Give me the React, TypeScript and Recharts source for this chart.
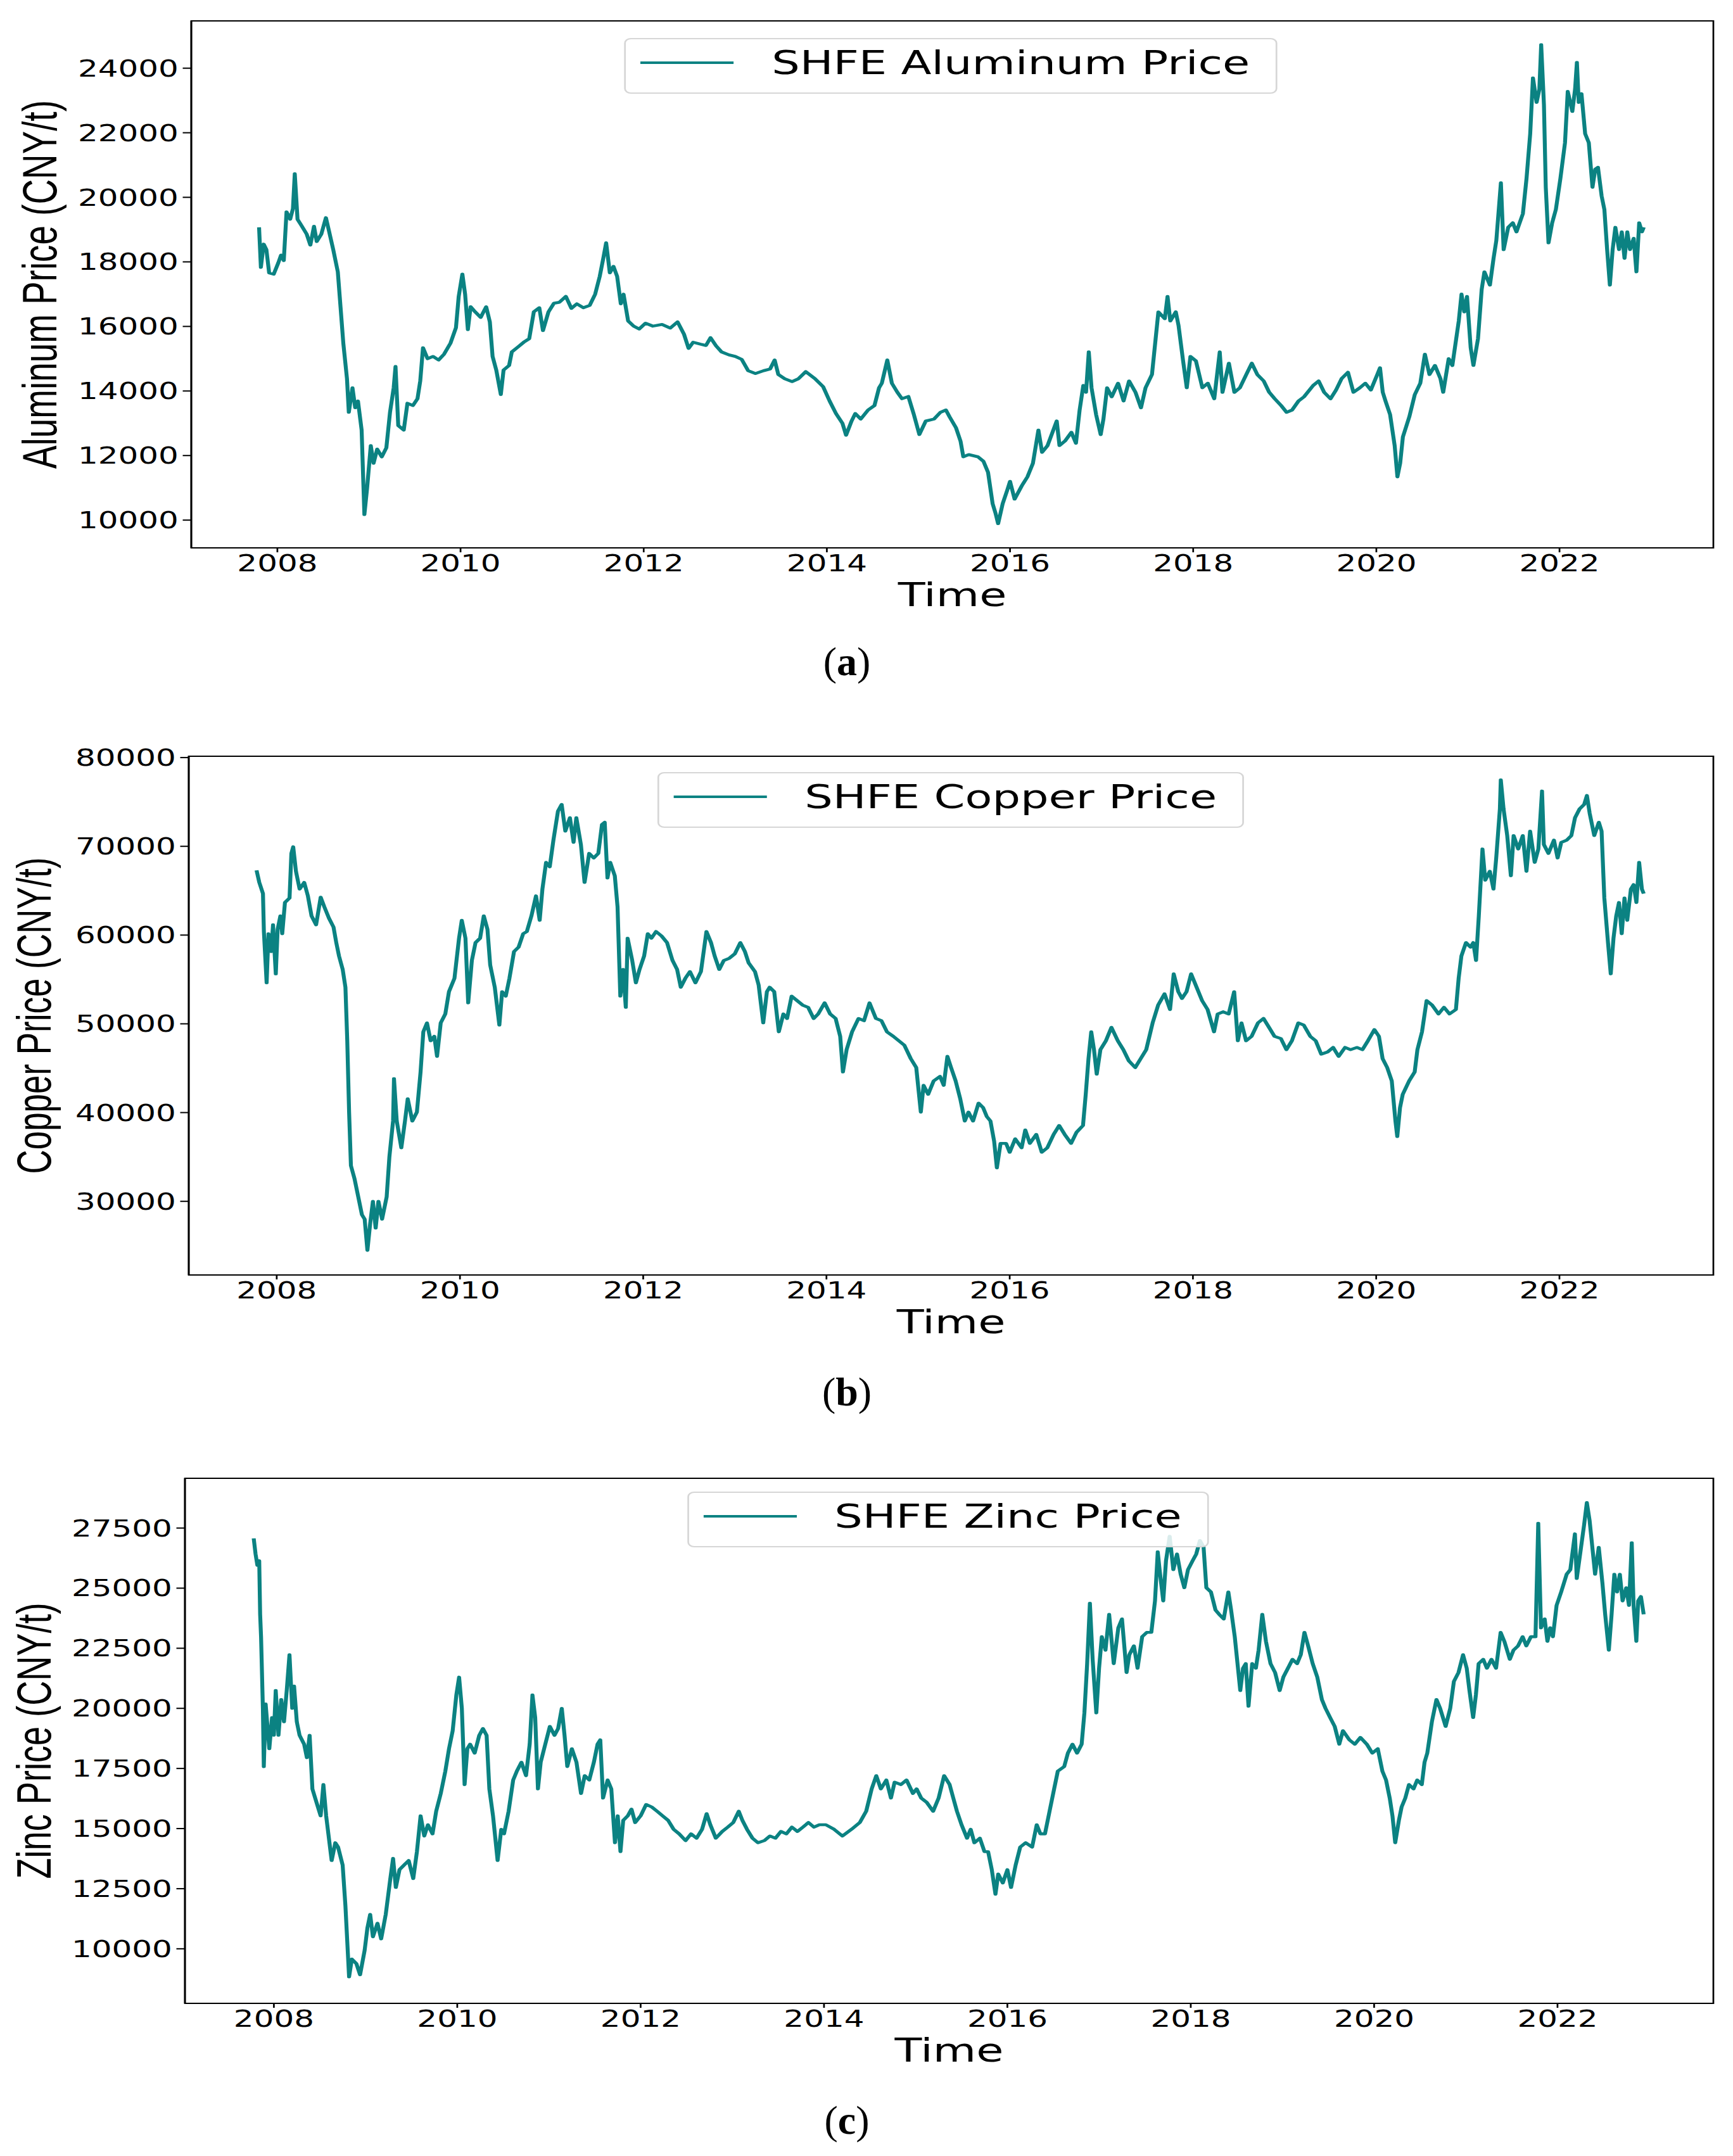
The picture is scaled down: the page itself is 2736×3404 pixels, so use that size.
import React from 'react';
import { LineChart, Line, XAxis, YAxis, Legend, Label, ReferenceArea } from 'recharts';

// the source figure is horizontally stretched, so each chart is drawn narrow and scaled in x
const PAGE_W = 2736;
const PAGE_H = 3404;
const CHART_W = 2027;
const STRETCH = PAGE_W / CHART_W;
const CHART_H = 1000;
const XAXIS_H = 110;
const PLOT_RIGHT = 2705; // page px
const TEAL = '#0b8282';

const yearTicks = [2008, 2010, 2012, 2014, 2016, 2018, 2020, 2022];
const aluminumTicks = [10000, 12000, 14000, 16000, 18000, 20000, 22000, 24000];
const copperTicks = [30000, 40000, 50000, 60000, 70000, 80000];
const zincTicks = [10000, 12500, 15000, 17500, 20000, 22500, 25000, 27500];

// [decimal year, CNY/t]
const aluminum: [number, number][] = [
  [2007.80, 19070], [2007.82, 17830], [2007.85, 18550], [2007.88, 18380], [2007.91, 17660], [2007.96, 17620],
  [2008.01, 17970], [2008.04, 18210], [2008.07, 18040], [2008.10, 19550], [2008.14, 19320], [2008.17, 19650],
  [2008.19, 20730], [2008.22, 19320], [2008.26, 19140], [2008.32, 18860], [2008.36, 18520], [2008.40, 19100],
  [2008.43, 18630], [2008.48, 18860], [2008.53, 19370], [2008.56, 19000], [2008.61, 18380], [2008.66, 17690],
  [2008.69, 16590], [2008.72, 15480], [2008.76, 14380], [2008.78, 13340], [2008.82, 14100], [2008.85, 13480],
  [2008.88, 13690], [2008.92, 12790], [2008.95, 10170], [2008.98, 11000], [2009.02, 12310], [2009.05, 11760],
  [2009.09, 12200], [2009.14, 11960], [2009.19, 12240], [2009.23, 13340], [2009.27, 14100], [2009.29, 14760],
  [2009.32, 12930], [2009.38, 12790], [2009.42, 13620], [2009.48, 13550], [2009.53, 13760], [2009.56, 14310],
  [2009.59, 15340], [2009.64, 15000], [2009.70, 15070], [2009.76, 14960], [2009.82, 15140], [2009.89, 15480],
  [2009.95, 15960], [2009.98, 16930], [2010.02, 17620], [2010.05, 17000], [2010.08, 15900], [2010.11, 16610],
  [2010.16, 16450], [2010.22, 16280], [2010.28, 16610], [2010.32, 16140], [2010.35, 15070], [2010.39, 14650],
  [2010.44, 13890], [2010.47, 14650], [2010.53, 14790], [2010.56, 15210], [2010.63, 15370], [2010.69, 15510],
  [2010.75, 15620], [2010.80, 16450], [2010.86, 16580], [2010.90, 15870], [2010.96, 16450], [2011.02, 16720],
  [2011.08, 16750], [2011.15, 16930], [2011.21, 16560], [2011.27, 16700], [2011.34, 16580], [2011.41, 16650],
  [2011.47, 17000], [2011.52, 17550], [2011.56, 18130], [2011.59, 18590], [2011.63, 17660], [2011.67, 17860],
  [2011.71, 17550], [2011.75, 16700], [2011.78, 17000], [2011.83, 16170], [2011.89, 16010], [2011.95, 15920],
  [2012.02, 16100], [2012.10, 16010], [2012.20, 16060], [2012.29, 15950], [2012.37, 16140], [2012.44, 15760],
  [2012.49, 15320], [2012.54, 15510], [2012.62, 15450], [2012.68, 15410], [2012.73, 15650], [2012.79, 15400],
  [2012.85, 15210], [2012.93, 15120], [2013.00, 15070], [2013.07, 14980], [2013.14, 14630], [2013.22, 14540],
  [2013.31, 14630], [2013.38, 14680], [2013.43, 14960], [2013.47, 14510], [2013.54, 14380], [2013.62, 14290],
  [2013.69, 14380], [2013.77, 14600], [2013.87, 14380], [2013.96, 14130], [2014.03, 13690], [2014.10, 13300],
  [2014.17, 13000], [2014.21, 12630], [2014.27, 13070], [2014.31, 13300], [2014.37, 13130], [2014.45, 13410],
  [2014.52, 13550], [2014.57, 14100], [2014.60, 14240], [2014.66, 14960], [2014.71, 14240], [2014.77, 13960],
  [2014.82, 13760], [2014.89, 13830], [2014.95, 13270], [2015.01, 12650], [2015.08, 13070], [2015.17, 13130],
  [2015.24, 13340], [2015.30, 13410], [2015.34, 13200], [2015.41, 12860], [2015.46, 12440], [2015.49, 11960],
  [2015.55, 12030], [2015.65, 11960], [2015.71, 11820], [2015.76, 11480], [2015.81, 10510], [2015.84, 10230],
  [2015.87, 9890], [2015.92, 10510], [2015.97, 10930], [2016.00, 11200], [2016.05, 10650], [2016.13, 11070],
  [2016.19, 11340], [2016.25, 11760], [2016.31, 12790], [2016.35, 12100], [2016.41, 12310], [2016.51, 13070],
  [2016.54, 12310], [2016.60, 12450], [2016.67, 12720], [2016.72, 12380], [2016.76, 13410], [2016.80, 14170],
  [2016.83, 13960], [2016.86, 15210], [2016.89, 14100], [2016.94, 13270], [2016.99, 12650], [2017.02, 13130],
  [2017.06, 14100], [2017.11, 13820], [2017.18, 14240], [2017.24, 13690], [2017.30, 14310], [2017.37, 13960],
  [2017.43, 13480], [2017.48, 14100], [2017.55, 14510], [2017.59, 15620], [2017.62, 16450], [2017.69, 16240],
  [2017.72, 16930], [2017.75, 16170], [2017.81, 16450], [2017.84, 16030], [2017.89, 14930], [2017.93, 14100],
  [2017.97, 15070], [2018.03, 14930], [2018.10, 14100], [2018.16, 14240], [2018.23, 13760], [2018.29, 15210],
  [2018.32, 13960], [2018.39, 14860], [2018.45, 13960], [2018.51, 14100], [2018.58, 14510], [2018.64, 14860],
  [2018.70, 14510], [2018.77, 14310], [2018.83, 13960], [2018.89, 13760], [2018.96, 13550], [2019.02, 13340],
  [2019.08, 13410], [2019.15, 13690], [2019.21, 13820], [2019.31, 14170], [2019.37, 14310], [2019.43, 13960],
  [2019.50, 13760], [2019.56, 14030], [2019.62, 14380], [2019.69, 14580], [2019.75, 13960], [2019.82, 14100],
  [2019.88, 14240], [2019.94, 14030], [2020.01, 14510], [2020.04, 14720], [2020.07, 13960], [2020.10, 13690],
  [2020.15, 13270], [2020.20, 12310], [2020.23, 11340], [2020.26, 11760], [2020.29, 12580], [2020.36, 13200],
  [2020.42, 13890], [2020.48, 14240], [2020.53, 15140], [2020.58, 14510], [2020.64, 14790], [2020.70, 14380],
  [2020.73, 13960], [2020.79, 15000], [2020.83, 14790], [2020.90, 16170], [2020.93, 17000], [2020.96, 16450],
  [2020.99, 16930], [2021.03, 15340], [2021.06, 14790], [2021.11, 15620], [2021.15, 17140], [2021.18, 17690],
  [2021.24, 17280], [2021.28, 18110], [2021.31, 18660], [2021.36, 20450], [2021.39, 18380], [2021.44, 19070],
  [2021.49, 19210], [2021.53, 18930], [2021.60, 19490], [2021.64, 20590], [2021.68, 21970], [2021.71, 23700],
  [2021.75, 22940], [2021.78, 23350], [2021.80, 24730], [2021.83, 22870], [2021.85, 20310], [2021.88, 18590],
  [2021.92, 19210], [2021.96, 19620], [2022.01, 20590], [2022.06, 21690], [2022.09, 23280], [2022.14, 22660],
  [2022.17, 23350], [2022.19, 24180], [2022.21, 22940], [2022.24, 23210], [2022.28, 21970], [2022.32, 21690],
  [2022.36, 20310], [2022.39, 20870], [2022.42, 20930], [2022.46, 20040], [2022.49, 19620], [2022.52, 18380],
  [2022.55, 17280], [2022.58, 18380], [2022.61, 19070], [2022.65, 18380], [2022.68, 18930], [2022.71, 18110],
  [2022.74, 18930], [2022.77, 18380], [2022.81, 18730], [2022.84, 17690], [2022.87, 19210], [2022.90, 18930],
  [2022.92, 19070],
];

const copper: [number, number][] = [
  [2007.78, 67290], [2007.81, 65930], [2007.85, 64670], [2007.86, 60400], [2007.89, 54620], [2007.91, 60150],
  [2007.94, 58140], [2007.96, 61160], [2007.99, 55630], [2008.01, 60650], [2008.04, 62160], [2008.06, 60150],
  [2008.09, 63670], [2008.14, 64170], [2008.16, 69200], [2008.18, 69950], [2008.21, 67190], [2008.25, 65180],
  [2008.30, 65930], [2008.34, 64420], [2008.38, 62160], [2008.43, 61160], [2008.48, 64270], [2008.52, 63170],
  [2008.57, 61910], [2008.62, 60900], [2008.65, 59150], [2008.68, 57640], [2008.72, 56130], [2008.75, 54120],
  [2008.77, 48090], [2008.79, 40050], [2008.81, 34020], [2008.85, 32510], [2008.89, 30500], [2008.93, 28490],
  [2008.96, 27990], [2008.99, 24470], [2009.02, 27490], [2009.05, 30000], [2009.08, 26980], [2009.11, 30000],
  [2009.15, 27990], [2009.20, 30500], [2009.23, 35030], [2009.27, 39050], [2009.28, 43820], [2009.31, 39050],
  [2009.36, 36030], [2009.40, 39050], [2009.43, 41560], [2009.48, 39050], [2009.53, 40050], [2009.57, 44570],
  [2009.60, 49100], [2009.64, 50100], [2009.68, 48090], [2009.72, 48590], [2009.75, 46330], [2009.79, 50100],
  [2009.84, 51110], [2009.88, 53620], [2009.94, 55130], [2009.99, 59650], [2010.02, 61660], [2010.06, 59650],
  [2010.09, 52360], [2010.13, 57140], [2010.17, 59150], [2010.22, 59650], [2010.26, 62160], [2010.30, 60650],
  [2010.33, 56630], [2010.38, 54120], [2010.43, 49850], [2010.46, 53620], [2010.50, 53120], [2010.54, 55130],
  [2010.59, 58140], [2010.64, 58640], [2010.69, 60150], [2010.73, 60400], [2010.78, 62160], [2010.83, 64420],
  [2010.87, 61660], [2010.90, 65180], [2010.94, 68190], [2010.98, 67690], [2011.02, 70700], [2011.07, 73970],
  [2011.11, 74720], [2011.15, 71710], [2011.20, 73220], [2011.24, 70450], [2011.27, 73220], [2011.32, 70200],
  [2011.36, 65930], [2011.41, 69200], [2011.46, 68690], [2011.51, 69200], [2011.55, 72460], [2011.58, 72710],
  [2011.61, 66430], [2011.64, 68190], [2011.69, 66680], [2011.72, 63170], [2011.75, 53120], [2011.78, 56130],
  [2011.81, 51860], [2011.83, 59650], [2011.88, 57140], [2011.92, 54620], [2011.96, 56130], [2012.01, 57640],
  [2012.05, 60150], [2012.09, 59650], [2012.14, 60400], [2012.20, 59900], [2012.26, 59150], [2012.32, 57140],
  [2012.37, 56130], [2012.41, 54120], [2012.46, 55130], [2012.51, 55880], [2012.57, 54620], [2012.63, 55880],
  [2012.69, 60400], [2012.74, 59150], [2012.78, 57640], [2012.83, 56130], [2012.88, 57140], [2012.94, 57390],
  [2013.00, 57890], [2013.06, 59150], [2013.11, 58140], [2013.15, 56880], [2013.22, 55880], [2013.26, 54370],
  [2013.31, 50100], [2013.35, 53620], [2013.38, 54120], [2013.43, 53620], [2013.48, 49100], [2013.53, 51110],
  [2013.57, 50600], [2013.62, 53120], [2013.68, 52610], [2013.74, 52110], [2013.80, 51860], [2013.86, 50600],
  [2013.91, 51110], [2013.98, 52360], [2014.04, 51110], [2014.10, 50600], [2014.15, 48590], [2014.18, 44570],
  [2014.22, 47090], [2014.28, 49100], [2014.35, 50600], [2014.41, 50350], [2014.47, 52360], [2014.54, 50600],
  [2014.60, 50350], [2014.66, 49100], [2014.73, 48590], [2014.79, 48090], [2014.85, 47590], [2014.92, 46080],
  [2014.98, 45070], [2015.03, 40050], [2015.06, 43070], [2015.11, 42060], [2015.17, 43570], [2015.24, 44070],
  [2015.28, 43070], [2015.32, 46330], [2015.36, 45070], [2015.41, 43570], [2015.46, 41560], [2015.51, 39050],
  [2015.55, 40050], [2015.60, 39050], [2015.66, 41060], [2015.71, 40550], [2015.75, 39550], [2015.79, 39050],
  [2015.83, 36780], [2015.86, 33770], [2015.90, 36530], [2015.96, 36530], [2016.00, 35530], [2016.06, 37040],
  [2016.13, 36030], [2016.17, 38040], [2016.22, 36530], [2016.29, 37540], [2016.35, 35530], [2016.41, 36030],
  [2016.48, 37540], [2016.54, 38540], [2016.60, 37540], [2016.67, 36530], [2016.73, 37790], [2016.80, 38540],
  [2016.83, 42060], [2016.86, 46080], [2016.89, 49100], [2016.92, 47090], [2016.95, 44320], [2016.99, 47090],
  [2017.05, 48090], [2017.11, 49600], [2017.18, 48090], [2017.24, 47090], [2017.30, 45830], [2017.37, 45070],
  [2017.43, 46080], [2017.49, 47090], [2017.56, 50100], [2017.62, 52110], [2017.69, 53370], [2017.75, 51610],
  [2017.79, 55630], [2017.84, 53620], [2017.88, 52860], [2017.93, 53620], [2017.98, 55630], [2018.04, 54120],
  [2018.10, 52610], [2018.16, 51610], [2018.23, 49100], [2018.27, 51110], [2018.33, 51360], [2018.39, 51110],
  [2018.45, 53620], [2018.49, 48090], [2018.53, 50100], [2018.58, 48090], [2018.64, 48590], [2018.71, 50100],
  [2018.77, 50600], [2018.83, 49600], [2018.89, 48590], [2018.96, 48340], [2019.02, 47090], [2019.08, 48090],
  [2019.15, 50100], [2019.21, 49850], [2019.28, 48590], [2019.34, 48090], [2019.40, 46580], [2019.47, 46830],
  [2019.53, 47340], [2019.59, 46330], [2019.66, 47340], [2019.72, 47090], [2019.79, 47340], [2019.85, 47090],
  [2019.91, 48090], [2019.98, 49350], [2020.03, 48590], [2020.07, 46080], [2020.12, 45070], [2020.17, 43570],
  [2020.21, 39050], [2020.23, 37290], [2020.26, 40550], [2020.29, 42060], [2020.36, 43570], [2020.42, 44570],
  [2020.45, 47090], [2020.50, 49100], [2020.55, 52610], [2020.61, 52110], [2020.68, 51110], [2020.74, 51860],
  [2020.80, 51110], [2020.87, 51610], [2020.90, 55130], [2020.93, 57640], [2020.98, 59150], [2021.03, 58640],
  [2021.06, 59150], [2021.09, 57140], [2021.12, 62160], [2021.16, 69700], [2021.19, 66180], [2021.24, 67190],
  [2021.28, 65180], [2021.31, 68690], [2021.35, 74220], [2021.36, 77490], [2021.39, 74220], [2021.43, 71210],
  [2021.47, 66680], [2021.50, 71210], [2021.55, 69700], [2021.60, 71210], [2021.64, 67190], [2021.68, 71710],
  [2021.73, 68190], [2021.77, 69700], [2021.81, 76230], [2021.83, 70200], [2021.88, 69200], [2021.94, 70700],
  [2021.98, 68690], [2022.02, 70450], [2022.08, 70700], [2022.13, 71210], [2022.17, 73220], [2022.22, 74220],
  [2022.27, 74720], [2022.30, 75730], [2022.33, 73720], [2022.38, 71210], [2022.43, 72710], [2022.46, 71710],
  [2022.49, 64170], [2022.53, 59150], [2022.56, 55630], [2022.59, 59650], [2022.62, 62160], [2022.65, 63670],
  [2022.68, 60150], [2022.71, 64170], [2022.74, 61660], [2022.78, 65180], [2022.81, 65680], [2022.84, 63670],
  [2022.87, 68190], [2022.90, 65180], [2022.92, 64670],
];

const zinc: [number, number][] = [
  [2007.78, 27070], [2007.80, 26420], [2007.82, 25950], [2007.84, 26140], [2007.85, 23910], [2007.86, 22980],
  [2007.88, 20000], [2007.89, 17580], [2007.91, 20180], [2007.93, 19250], [2007.95, 18320], [2007.98, 19620],
  [2008.00, 18880], [2008.02, 20740], [2008.05, 18880], [2008.08, 20370], [2008.11, 19440], [2008.14, 20740],
  [2008.17, 22230], [2008.20, 20000], [2008.22, 20930], [2008.25, 19440], [2008.28, 18880], [2008.33, 18510],
  [2008.36, 17950], [2008.39, 18880], [2008.42, 16650], [2008.45, 16270], [2008.48, 15900], [2008.51, 15530],
  [2008.54, 16830], [2008.57, 15530], [2008.60, 14600], [2008.63, 13670], [2008.67, 14410], [2008.70, 14230],
  [2008.75, 13480], [2008.78, 11800], [2008.80, 10320], [2008.82, 8830], [2008.85, 9570], [2008.90, 9380],
  [2008.94, 8920], [2008.99, 9940], [2009.02, 10870], [2009.05, 11430], [2009.08, 10500], [2009.13, 11060],
  [2009.17, 10410], [2009.22, 11430], [2009.27, 12920], [2009.30, 13760], [2009.33, 12550], [2009.37, 13290],
  [2009.42, 13480], [2009.47, 13670], [2009.52, 12920], [2009.56, 14040], [2009.60, 15530], [2009.64, 14690],
  [2009.68, 15160], [2009.73, 14780], [2009.77, 15720], [2009.82, 16460], [2009.87, 17390], [2009.91, 18320],
  [2009.95, 19070], [2009.99, 20560], [2010.02, 21300], [2010.05, 20000], [2010.08, 16830], [2010.11, 18320],
  [2010.14, 18510], [2010.19, 18140], [2010.24, 18880], [2010.28, 19160], [2010.32, 18880], [2010.35, 16650],
  [2010.39, 15530], [2010.44, 13670], [2010.48, 14970], [2010.51, 14780], [2010.56, 15720], [2010.61, 17020],
  [2010.65, 17390], [2010.70, 17760], [2010.75, 17200], [2010.79, 18510], [2010.82, 20560], [2010.85, 19620],
  [2010.88, 16650], [2010.91, 17760], [2010.96, 18510], [2011.01, 19250], [2011.06, 18880], [2011.10, 19160],
  [2011.14, 20000], [2011.17, 18880], [2011.20, 17580], [2011.25, 18320], [2011.30, 17760], [2011.35, 16460],
  [2011.39, 17200], [2011.44, 17020], [2011.49, 17760], [2011.53, 18510], [2011.56, 18690], [2011.59, 16270],
  [2011.64, 17020], [2011.68, 16650], [2011.72, 14410], [2011.75, 15530], [2011.78, 14040], [2011.81, 15340],
  [2011.86, 15530], [2011.90, 15810], [2011.94, 15250], [2012.00, 15530], [2012.06, 16000], [2012.12, 15900],
  [2012.18, 15720], [2012.24, 15530], [2012.30, 15340], [2012.36, 14970], [2012.42, 14780], [2012.49, 14500],
  [2012.55, 14780], [2012.61, 14600], [2012.67, 14970], [2012.72, 15620], [2012.76, 15160], [2012.82, 14600],
  [2012.89, 14880], [2012.95, 15060], [2013.01, 15250], [2013.07, 15720], [2013.11, 15340], [2013.16, 14970],
  [2013.22, 14600], [2013.28, 14410], [2013.35, 14500], [2013.41, 14690], [2013.47, 14600], [2013.53, 14880],
  [2013.59, 14780], [2013.65, 15060], [2013.71, 14880], [2013.77, 15060], [2013.83, 15250], [2013.89, 15060],
  [2013.95, 15160], [2014.02, 15160], [2014.11, 14970], [2014.20, 14690], [2014.30, 14970], [2014.39, 15250],
  [2014.46, 15720], [2014.52, 16650], [2014.57, 17200], [2014.62, 16650], [2014.68, 17020], [2014.73, 16270],
  [2014.77, 16930], [2014.84, 16830], [2014.90, 17020], [2014.97, 16460], [2015.01, 16650], [2015.06, 16270],
  [2015.12, 16090], [2015.19, 15720], [2015.25, 16270], [2015.31, 17200], [2015.37, 16830], [2015.41, 16270],
  [2015.45, 15720], [2015.50, 15160], [2015.56, 14600], [2015.60, 14970], [2015.64, 14410], [2015.70, 14600],
  [2015.75, 14040], [2015.79, 14040], [2015.83, 13290], [2015.87, 12270], [2015.90, 13110], [2015.95, 12740],
  [2016.00, 13290], [2016.04, 12550], [2016.09, 13480], [2016.14, 14230], [2016.20, 14410], [2016.27, 14230],
  [2016.32, 15160], [2016.36, 14780], [2016.41, 14780], [2016.46, 15720], [2016.51, 16650], [2016.55, 17390],
  [2016.62, 17580], [2016.66, 18140], [2016.71, 18510], [2016.76, 18140], [2016.81, 18510], [2016.84, 19810],
  [2016.87, 21860], [2016.90, 24370], [2016.93, 22040], [2016.97, 19810], [2017.00, 21670], [2017.03, 22980],
  [2017.07, 22420], [2017.11, 23910], [2017.16, 21860], [2017.21, 23350], [2017.25, 23720], [2017.30, 21490],
  [2017.33, 22230], [2017.38, 22600], [2017.42, 21670], [2017.47, 22980], [2017.52, 23160], [2017.57, 23160],
  [2017.61, 24470], [2017.64, 26510], [2017.66, 25770], [2017.70, 24470], [2017.73, 26140], [2017.77, 27160],
  [2017.81, 25770], [2017.85, 26420], [2017.89, 25580], [2017.93, 25020], [2017.97, 25770], [2018.02, 26140],
  [2018.06, 26420], [2018.10, 26980], [2018.14, 26700], [2018.17, 25020], [2018.22, 24840], [2018.27, 24090],
  [2018.31, 23910], [2018.36, 23720], [2018.41, 24840], [2018.44, 24090], [2018.48, 22980], [2018.51, 21860],
  [2018.54, 20740], [2018.57, 21670], [2018.60, 21860], [2018.63, 20090], [2018.67, 21860], [2018.71, 21670],
  [2018.74, 22420], [2018.78, 23910], [2018.82, 22790], [2018.87, 21860], [2018.92, 21490], [2018.97, 20740],
  [2019.01, 21300], [2019.06, 21670], [2019.11, 22040], [2019.16, 21860], [2019.20, 22230], [2019.24, 23160],
  [2019.28, 22600], [2019.33, 21860], [2019.38, 21300], [2019.43, 20370], [2019.47, 20000], [2019.52, 19620],
  [2019.57, 19250], [2019.62, 18510], [2019.66, 19070], [2019.73, 18690], [2019.79, 18510], [2019.85, 18790],
  [2019.92, 18510], [2019.98, 18140], [2020.04, 18320], [2020.09, 17390], [2020.13, 17020], [2020.17, 16270],
  [2020.20, 15530], [2020.23, 14410], [2020.27, 15340], [2020.30, 15900], [2020.34, 16270], [2020.38, 16830],
  [2020.43, 16650], [2020.47, 17020], [2020.52, 16830], [2020.55, 17760], [2020.58, 18140], [2020.63, 19440],
  [2020.68, 20370], [2020.72, 20000], [2020.78, 19250], [2020.83, 20000], [2020.87, 21120], [2020.92, 21490],
  [2020.97, 22230], [2021.01, 21670], [2021.04, 20740], [2021.08, 19620], [2021.11, 20560], [2021.14, 21860],
  [2021.19, 22040], [2021.23, 21670], [2021.28, 22040], [2021.33, 21670], [2021.38, 23160], [2021.42, 22790],
  [2021.48, 22040], [2021.52, 22420], [2021.57, 22600], [2021.62, 22980], [2021.66, 22600], [2021.71, 22980],
  [2021.76, 22980], [2021.79, 27700], [2021.82, 23350], [2021.86, 23720], [2021.89, 22790], [2021.92, 23350],
  [2021.95, 22980], [2021.99, 24280], [2022.04, 24840], [2022.10, 25580], [2022.14, 25770], [2022.19, 27260],
  [2022.21, 25400], [2022.25, 26510], [2022.29, 27630], [2022.32, 28560], [2022.35, 27820], [2022.38, 26700],
  [2022.41, 25580], [2022.45, 26700], [2022.49, 25210], [2022.52, 23910], [2022.56, 22420], [2022.59, 23910],
  [2022.62, 25580], [2022.65, 24840], [2022.68, 25580], [2022.71, 24470], [2022.75, 25020], [2022.78, 24280],
  [2022.81, 26890], [2022.83, 24280], [2022.86, 22790], [2022.88, 24470], [2022.91, 24650], [2022.94, 23910],
];

type Panel = {
  id: string;
  name: string;
  yTitle: string;
  series: [number, number][];
  yTicks: number[];
  xDomain: [number, number];
  yDomain: [number, number];
  pageTop: number;
  plotTop: number;
  plotBottom: number;
  plotLeft: number; // page px
  yTitleX: number;
  yTitleLen: number;
  legendLeft: number; // page px
  legendTop: number;
  captionTop: number;
};

const panels: Panel[] = [
  {
    id: 'a', name: 'SHFE Aluminum Price', yTitle: 'Aluminum Price (CNY/t)', series: aluminum, yTicks: aluminumTicks,
    xDomain: [2007.06, 2023.68], yDomain: [9140, 25465], pageTop: 0, plotTop: 33, plotBottom: 865, plotLeft: 302,
    yTitleX: 66, yTitleLen: 582, legendLeft: 986, legendTop: 60, captionTop: 1013,
  },
  {
    id: 'b', name: 'SHFE Copper Price', yTitle: 'Copper Price (CNY/t)', series: copper, yTicks: copperTicks,
    xDomain: [2007.04, 2023.68], yDomain: [21700, 80150], pageTop: 1161, plotTop: 33, plotBottom: 852, plotLeft: 298,
    yTitleX: 59, yTitleLen: 500, legendLeft: 1038, legendTop: 58, captionTop: 2166,
  },
  {
    id: 'c', name: 'SHFE Zinc Price', yTitle: 'Zinc Price (CNY/t)', series: zinc, yTicks: zincTicks,
    xDomain: [2007.03, 2023.70], yDomain: [7730, 29570], pageTop: 2301, plotTop: 33, plotBottom: 862, plotLeft: 292,
    yTitleX: 59, yTitleLen: 436, legendLeft: 1085, legendTop: 54, captionTop: 3316,
  },
];

const TICK_FONT = '"DejaVu Sans", Verdana, sans-serif';

const YTick = ({ x, y, payload }: any) => (
  <text x={x} y={y} dy={13} textAnchor="end" fontFamily={TICK_FONT} fontSize={37} fill="#000">
    {payload.value}
  </text>
);

const XTick = ({ x, y, payload }: any) => (
  <text x={x} y={y} dy={30} textAnchor="middle" fontFamily={TICK_FONT} fontSize={37} fill="#000">
    {payload.value}
  </text>
);

const XTitle = ({ viewBox }: any) => (
  <text x={viewBox.x + viewBox.width / 2} y={viewBox.y + 92} textAnchor="middle" fontFamily={TICK_FONT} fontSize={52} fill="#000">
    Time
  </text>
);

const YTitle = ({ viewBox, text, bx, len }: any) => {
  const cy = viewBox.y + viewBox.height / 2;
  return (
    <text
      x={bx}
      y={cy}
      transform={`rotate(-90 ${bx} ${cy})`}
      textAnchor="middle"
      fontFamily='"Liberation Sans", Arial, sans-serif'
      fontSize={56}
      textLength={len}
      lengthAdjust="spacingAndGlyphs"
      fill="#000"
    >
      {text}
    </text>
  );
};

const LegendBox = ({ payload }: any) => {
  const item = payload && payload[0];
  if (!item) return null;
  return (
    <div
      style={{
        position: 'relative',
        display: 'inline-block',
        height: 88,
        boxSizing: 'border-box',
        border: '2px solid #d6d6d6',
        borderRadius: 8,
        background: 'rgba(255,255,255,0.85)',
        paddingLeft: 170,
        paddingRight: 30,
        fontFamily: TICK_FONT,
        fontSize: 52,
        lineHeight: '74px',
        whiteSpace: 'nowrap',
        color: '#000',
      }}
    >
      <span style={{ position: 'absolute', left: 17, top: 35, width: 109, height: 4, background: item.color }} />
      {item.value}
    </div>
  );
};

function PricePanel({ p }: { p: Panel }) {
  const rows = p.series.map(([t, v]) => ({ t, v }));
  const yAxisW = p.plotLeft / STRETCH;
  const rightM = CHART_W - PLOT_RIGHT / STRETCH;
  const axisLine = { stroke: '#000', strokeWidth: 2 };
  return (
    <div
      style={{
        position: 'absolute',
        left: 0,
        top: p.pageTop,
        width: CHART_W,
        height: CHART_H,
        transform: `scaleX(${STRETCH})`,
        transformOrigin: '0 0',
      }}
    >
      <LineChart
        width={CHART_W}
        height={CHART_H}
        data={rows}
        margin={{ top: p.plotTop, right: rightM, left: 0, bottom: CHART_H - p.plotBottom - XAXIS_H }}
      >
        <XAxis
          dataKey="t"
          type="number"
          domain={p.xDomain}
          allowDataOverflow
          ticks={yearTicks}
          interval={0}
          height={XAXIS_H}
          tickSize={7}
          tickMargin={0}
          tick={<XTick />}
          axisLine={axisLine}
          tickLine={axisLine}
        >
          <Label content={<XTitle />} />
        </XAxis>
        <YAxis
          type="number"
          domain={p.yDomain}
          allowDataOverflow
          ticks={p.yTicks}
          interval={0}
          width={yAxisW}
          tickSize={10}
          tickMargin={5}
          tick={<YTick />}
          axisLine={axisLine}
          tickLine={axisLine}
        >
          <Label content={<YTitle text={p.yTitle} bx={p.yTitleX} len={p.yTitleLen} />} />
        </YAxis>
        {/* axes frame, as in matplotlib's four spines */}
        <ReferenceArea
          x1={p.xDomain[0]}
          x2={p.xDomain[1]}
          y1={p.yDomain[0]}
          y2={p.yDomain[1]}
          ifOverflow="visible"
          fill="none"
          fillOpacity={0}
          stroke="#000"
          strokeWidth={2}
        />
        <Legend
          layout="horizontal"
          verticalAlign="middle"
          align="center"
          content={<LegendBox />}
          wrapperStyle={{ top: p.legendTop, left: p.legendLeft / STRETCH, width: 'auto' }}
        />
        <Line
          type="linear"
          dataKey="v"
          name={p.name}
          stroke={TEAL}
          strokeWidth={4.6}
          strokeLinejoin="round"
          dot={false}
          activeDot={false}
          isAnimationActive={false}
        />
      </LineChart>
    </div>
  );
}

export default function App() {
  return (
    <div style={{ position: 'relative', width: PAGE_W, height: PAGE_H, background: '#fff', overflow: 'hidden' }}>
      <style>{'body{margin:0;background:#fff}'}</style>
      {panels.map((p) => (
        <React.Fragment key={p.id}>
          <PricePanel p={p} />
          <div
            style={{
              position: 'absolute',
              left: 1187,
              width: 300,
              top: p.captionTop,
              textAlign: 'center',
              fontFamily: '"Liberation Serif", "Times New Roman", serif',
              fontSize: 64,
              lineHeight: '64px',
              color: '#000',
            }}
          >
            (<b>{p.id}</b>)
          </div>
        </React.Fragment>
      ))}
    </div>
  );
}
